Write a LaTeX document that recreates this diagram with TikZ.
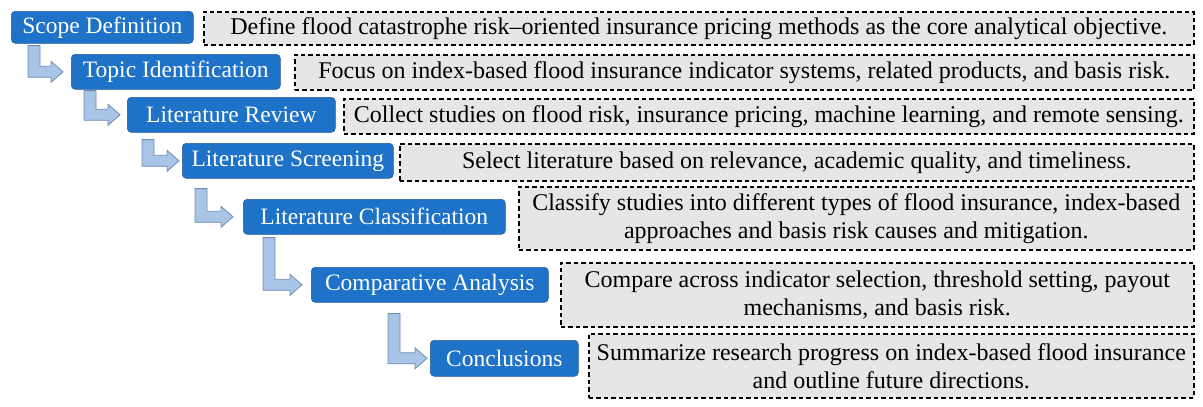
\documentclass[tikz,border=0pt]{standalone}
\usepackage{fontspec}
\setmainfont{Liberation Serif}
\usetikzlibrary{calc}
\definecolor{stepblue}{RGB}{30,114,200}
\definecolor{stepborder}{RGB}{40,90,150}
\definecolor{descgray}{RGB}{230,230,230}
\definecolor{arrfill}{RGB}{170,196,232}
\definecolor{arrdraw}{RGB}{110,140,180}
\tikzset{
  stepbox/.style={draw=stepborder, line width=0.6pt, fill=stepblue, rounded corners=4pt,
    text=white, font=\fontsize{23.5}{27}\selectfont, inner sep=0pt, anchor=north west},
  descbox/.style={draw=black, dash pattern=on 4.5pt off 3pt, line width=1.6pt,
    fill=descgray, font=\fontsize{24}{28}\selectfont, align=center, inner sep=0pt, anchor=north west},
  bentarrow/.style={fill=arrfill, draw=arrdraw, line width=0.8pt, line join=miter}
}
% #1 from, #2 to, #3 stem left x, #4 top gap, #5 tip gap
\newcommand\bentarr[5]{%
  \path let \p1=(#1.south), \p2=(#2.west) in
    \pgfextra{\pgfmathsetmacro\yt{\y1-#4}\pgfmathsetmacro\yc{\y2}\pgfmathsetmacro\xt{\x2-#5}}
    [bentarrow] (#3pt,\yt pt) -- (#3pt+12pt,\yt pt) -- (#3pt+12pt,\yc pt+5.5pt)
    -- (\xt pt-12pt,\yc pt+5.5pt) -- (\xt pt-12pt,\yc pt+10.5pt) -- (\xt pt,\yc pt)
    -- (\xt pt-12pt,\yc pt-10.5pt) -- (\xt pt-12pt,\yc pt-5.5pt) -- (#3pt,\yc pt-5.5pt) -- cycle;}
\begin{document}
\begin{tikzpicture}[x=1pt,y=-1pt]
\useasboundingbox (0,0) rectangle (1203,407);
% step boxes
\node[stepbox, minimum width=182pt, minimum height=32pt] (s1) at (11,11) {Scope Definition};
\node[stepbox, minimum width=209pt, minimum height=35pt] (s2) at (71,54) {Topic Identification};
\node[stepbox, minimum width=208pt, minimum height=35pt] (s3) at (127,97) {Literature Review};
\node[stepbox, minimum width=211pt, minimum height=35pt] (s4) at (182,143) {Literature Screening};
\node[stepbox, minimum width=262pt, minimum height=35pt] (s5) at (243,199) {Literature Classification};
\node[stepbox, minimum width=237pt, minimum height=35pt] (s6) at (311,267) {Comparative Analysis};
\node[stepbox, minimum width=148pt, minimum height=36pt] (s7) at (430,340) {Conclusions};
% description boxes
\node[descbox, minimum width=990pt, minimum height=33pt] (d1) at (203,11) {Define flood catastrophe risk--oriented insurance pricing methods as the core analytical objective.};
\node[descbox, minimum width=899pt, minimum height=35pt] (d2) at (294,54) {Focus on index-based flood insurance indicator systems, related products, and basis risk.};
\node[descbox, minimum width=850pt, minimum height=35pt] (d3) at (343,98) {Collect studies on flood risk, insurance pricing, machine learning, and remote sensing.};
\node[descbox, minimum width=794pt, minimum height=37pt] (d4) at (399,143) {Select literature based on relevance, academic quality, and timeliness.};
\node[descbox, minimum width=675pt, minimum height=63pt] (d5) at (518,186) {Classify studies into different types of flood insurance, index-based\\approaches and basis risk causes and mitigation.};
\node[descbox, minimum width=633pt, minimum height=64pt] (d6) at (560,262) {Compare across indicator selection, threshold setting, payout\\mechanisms, and basis risk.};
\node[descbox, minimum width=605pt, minimum height=64pt] (d7) at (588,333) {Summarize research progress on index-based flood insurance\\and outline future directions.};
% bent arrows
\bentarr{s1}{s2}{28}{2}{8}
\bentarr{s2}{s3}{84}{1}{7}
\bentarr{s3}{s4}{142}{7}{3}
\bentarr{s4}{s5}{195}{10}{10}
\bentarr{s5}{s6}{263}{3}{9}
\bentarr{s6}{s7}{388}{11}{3}
\end{tikzpicture}
\end{document}
